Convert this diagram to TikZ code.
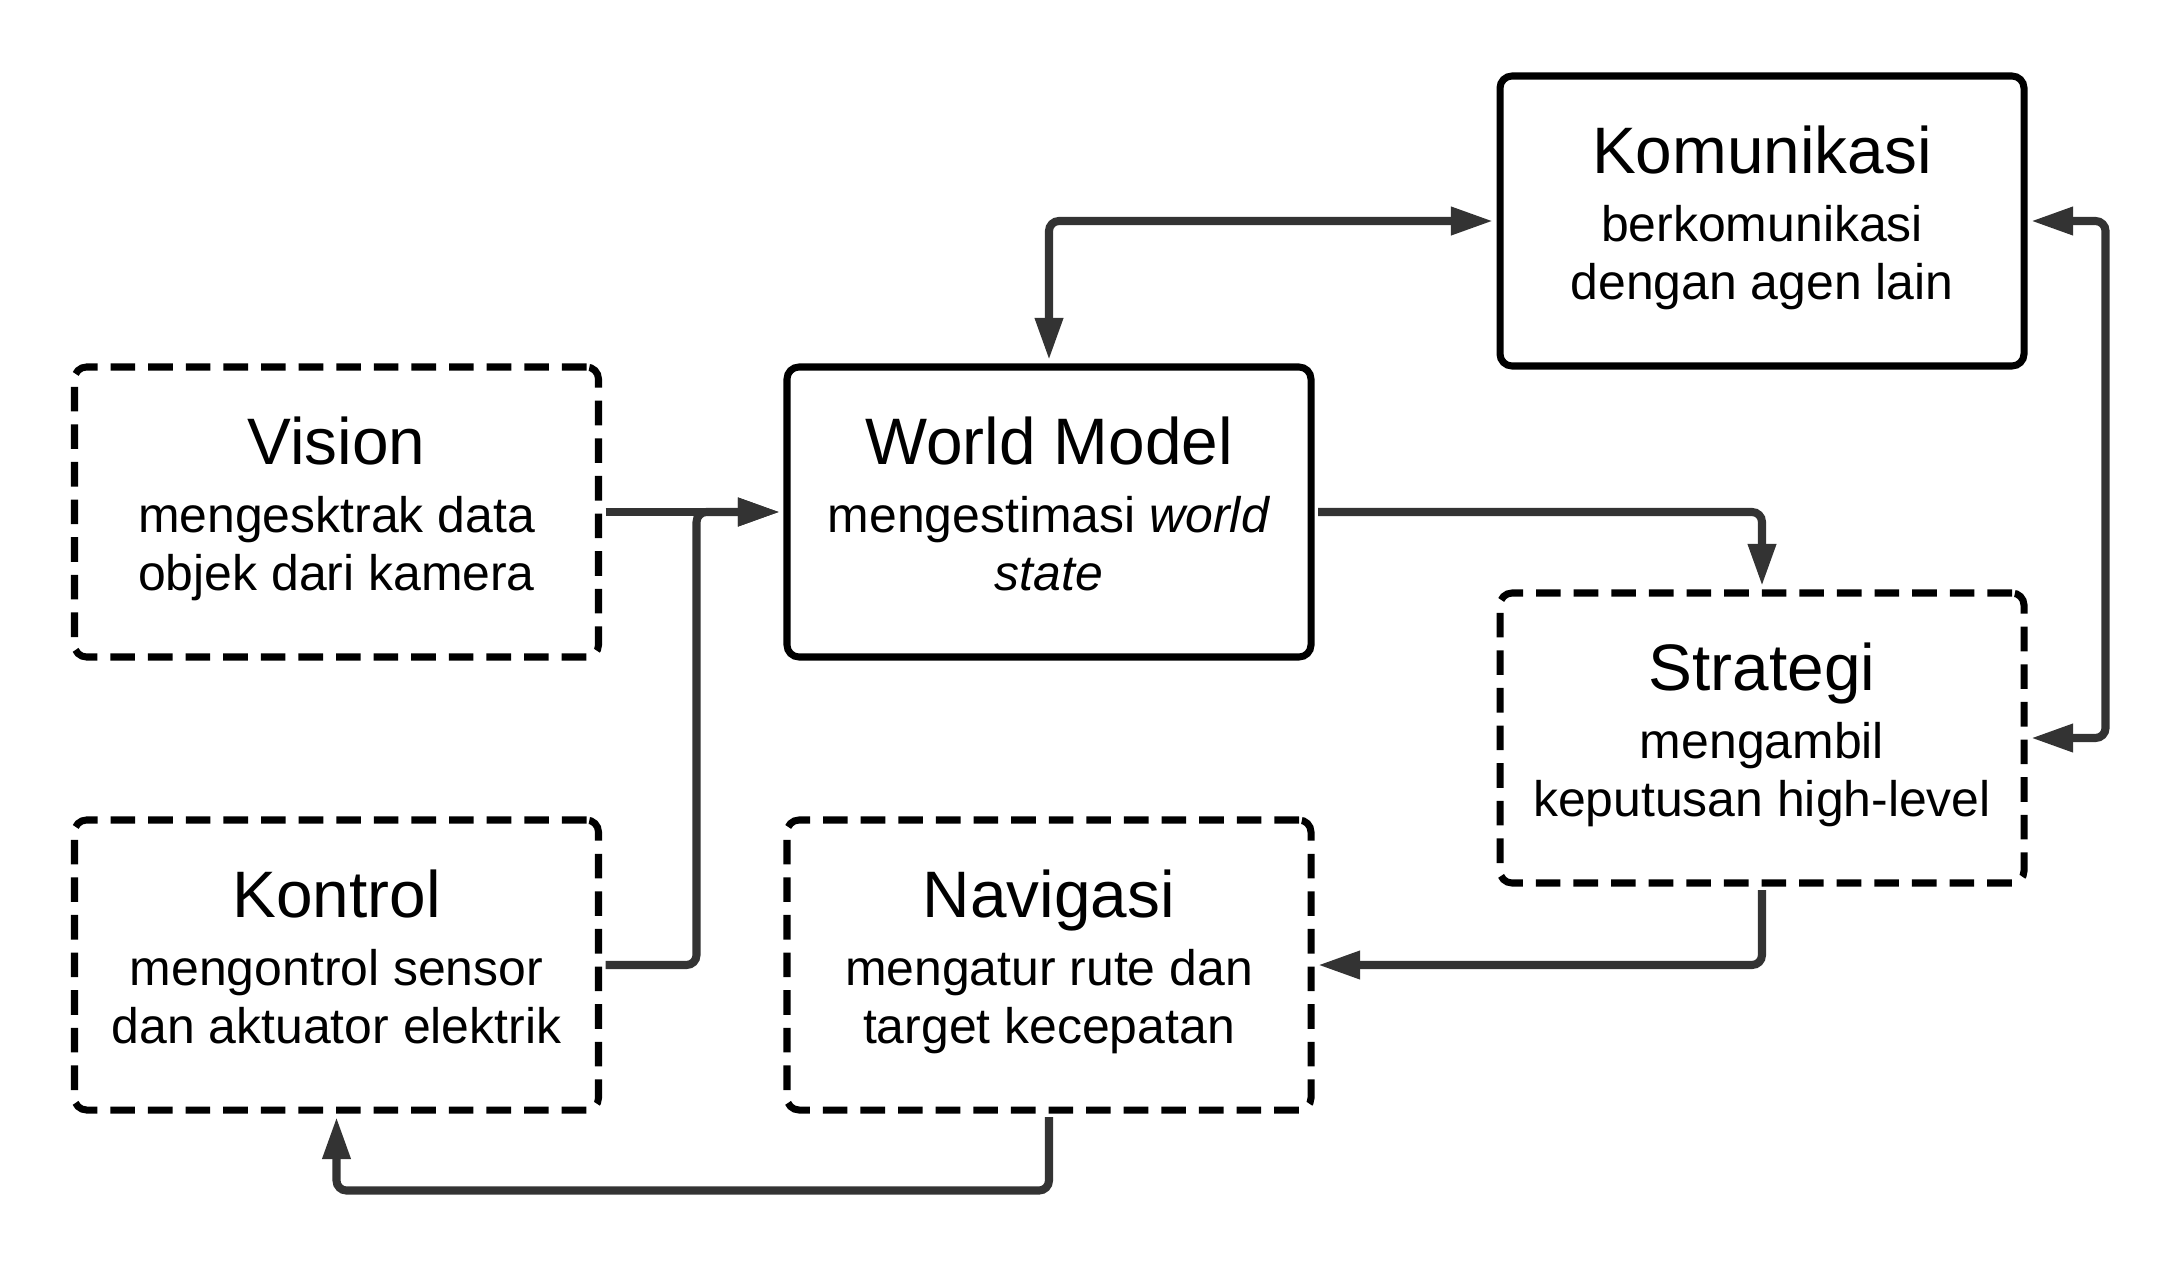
\documentclass[tikz,border=0pt]{standalone}
\usepackage{fontspec}
\setmainfont{Liberation Sans}
\usepackage{xcolor}
\usepackage{tikz}
\usetikzlibrary{arrows.meta}
\definecolor{linkgray}{HTML}{333333}
\newcommand{\titlesize}{\fontsize{18.7pt}{22pt}\selectfont}
\newcommand{\bodysize}{\fontsize{14.2pt}{17pt}\selectfont}

\tikzset{
  solidbox/.style={draw=black,line width=2pt,rounded corners=0.12cm,
    minimum width=5.24cm,minimum height=2.90cm,inner sep=0pt},
  dashbox/.style={solidbox,dash pattern=on 7pt off 3.7pt},
  boxtitle/.style={anchor=base,inner sep=0pt,font=\titlesize},
  boxtext/.style={anchor=base,inner sep=0pt,font=\bodysize},
  link/.style={draw=linkgray,line width=2.3pt,rounded corners=0.1cm,
    shorten >=1pt,shorten <=1pt,
    arrows={-Triangle[length=12pt,width=7.6pt]}},
  biglink/.style={link,arrows={Triangle[length=12pt,width=7.6pt]-Triangle[length=12pt,width=7.6pt]}}
}

\begin{document}
\begin{tikzpicture}
\useasboundingbox (0,0) rectangle (21.79,-12.64);

\node[dashbox] (vis) at (3.365,-5.12) {};
\node[boxtitle] (vis-t) at ([yshift=-1.01cm]vis.north) {Vision};
\node[boxtext] (vis-a) at ([yshift=-1.69cm]vis.north) {mengesktrak data};
\node[boxtext] (vis-b) at ([yshift=-2.27cm]vis.north) {objek dari kamera};

\node[solidbox] (wm) at (10.49,-5.12) {};
\node[boxtitle] (wm-t) at ([yshift=-1.01cm]wm.north) {World Model};
\node[boxtext] (wm-a) at ([yshift=-1.69cm]wm.north) {mengestimasi \textit{world}};
\node[boxtext] (wm-b) at ([yshift=-2.27cm]wm.north) {\textit{state}};

\node[solidbox] (kom) at (17.62,-2.21) {};
\node[boxtitle] (kom-t) at ([yshift=-1.01cm]kom.north) {Komunikasi};
\node[boxtext] (kom-a) at ([yshift=-1.69cm]kom.north) {berkomunikasi};
\node[boxtext] (kom-b) at ([yshift=-2.27cm]kom.north) {dengan agen lain};

\node[dashbox] (str) at (17.62,-7.38) {};
\node[boxtitle] (str-t) at ([yshift=-1.01cm]str.north) {Strategi};
\node[boxtext] (str-a) at ([yshift=-1.69cm]str.north) {mengambil};
\node[boxtext] (str-b) at ([yshift=-2.27cm]str.north) {keputusan high-level};

\node[dashbox] (kon) at (3.365,-9.65) {};
\node[boxtitle] (kon-t) at ([yshift=-1.01cm]kon.north) {Kontrol};
\node[boxtext] (kon-a) at ([yshift=-1.69cm]kon.north) {mengontrol sensor};
\node[boxtext] (kon-b) at ([yshift=-2.27cm]kon.north) {dan aktuator elektrik};

\node[dashbox] (nav) at (10.49,-9.65) {};
\node[boxtitle] (nav-t) at ([yshift=-1.01cm]nav.north) {Navigasi};
\node[boxtext] (nav-a) at ([yshift=-1.69cm]nav.north) {mengatur rute dan};
\node[boxtext] (nav-b) at ([yshift=-2.27cm]nav.north) {target kecepatan};

% connectors
\draw[link] (vis.east) -- (wm.west);
\draw[link] (kon.east) -- ++(0.945,0) |- (wm.west);
\draw[biglink] (wm.north) |- (kom.west);
\draw[biglink] (kom.east) -- ++(0.78,0) |- (str.east);
\draw[link] (wm.east) -| (str.north);
\draw[link] (str.south) |- (nav.east);
\draw[link] (nav.south) -- ++(0,-0.77) -| (kon.south);
\end{tikzpicture}
\end{document}
